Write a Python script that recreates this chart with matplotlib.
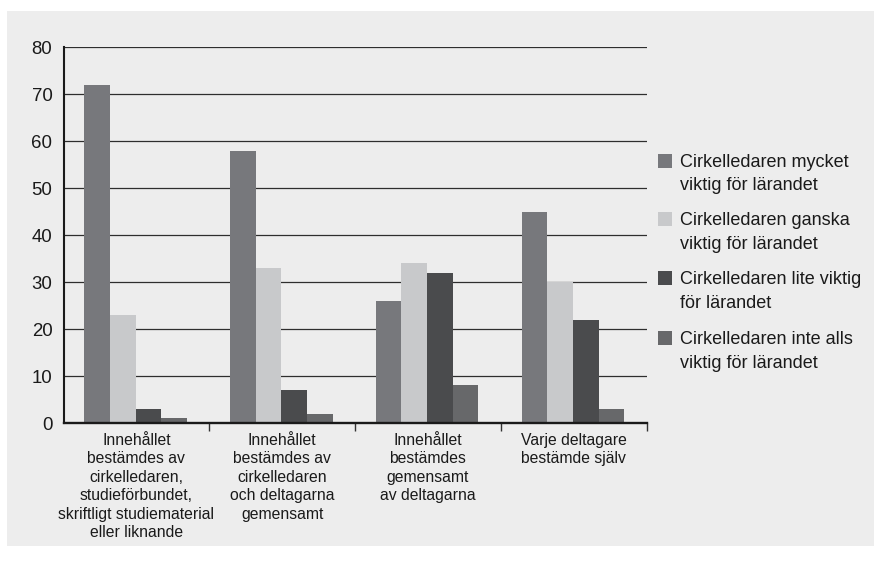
import numpy as np
import matplotlib
matplotlib.use("Agg")
import matplotlib.pyplot as plt
from matplotlib.patches import Rectangle

plt.rcParams['font.family'] = ['Liberation Sans', 'DejaVu Sans']

categories = [
    "Innehållet\nbestämdes av\ncirkelledaren,\nstudieförbundet,\nskriftligt studiematerial\neller liknande",
    "Innehållet\nbestämdes av\ncirkelledaren\noch deltagarna\ngemensamt",
    "Innehållet\nbestämdes\ngemensamt\nav deltagarna",
    "Varje deltagare\nbestämde själv",
]
series_names = [
    "Cirkelledaren mycket\nviktig för lärandet",
    "Cirkelledaren ganska\nviktig för lärandet",
    "Cirkelledaren lite viktig\nför lärandet",
    "Cirkelledaren inte alls\nviktig för lärandet",
]
mycket = [72, 58, 26, 45]
ganska = [23, 33, 34, 30]
lite = [3, 7, 32, 22]
inte_alls = [1, 2, 8, 3]
values = [mycket, ganska, lite, inte_alls]
colors = ["#77787c", "#c8c9cb", "#4a4b4d", "#67686a"]
bg = "#ededed"

W, H = 874, 561
fig = plt.figure(figsize=(W / 100, H / 100), dpi=100, facecolor="white")
fig.patches.append(Rectangle((7 / W, 1 - 546 / H), 1 - 7 / W, (546 - 11) / H,
                             transform=fig.transFigure, facecolor=bg,
                             edgecolor="none", zorder=-5))

ax = fig.add_axes([63.5 / W, 1 - 423 / H, 583 / W, 375.7 / H])
ax.set_zorder(2)
ax.patch.set_alpha(0)

x = np.arange(len(categories))
w = 0.176
for i, (vals, c) in enumerate(zip(values, colors)):
    ax.bar(x + (i - 1.5) * w - 0.005, vals, width=w, color=c, zorder=3)

ax.set_xlim(-0.5, 3.5)
ax.set_ylim(0, 80)
ax.set_yticks(range(0, 81, 10))
for yv in range(10, 81, 10):
    ax.axhline(yv, color="#2e2e2e", lw=0.9, zorder=1)

ax.tick_params(axis="y", length=0, pad=8, labelsize=13.4, labelcolor="#1a1a1a")
ax.set_xticks([0.5, 1.5, 2.5, 3.5])
ax.set_xticklabels([])
ax.set_xticks(x, minor=True)
ax.set_xticklabels(categories, minor=True, fontsize=11.3, color="#1a1a1a",
                   linespacing=1.29)
ax.tick_params(axis="x", which="major", length=6, width=1, color="#333333",
               direction="out")
ax.tick_params(axis="x", which="minor", length=0, pad=7)

for s in ["top", "right"]:
    ax.spines[s].set_visible(False)
ax.spines["left"].set_linewidth(1.5)
ax.spines["left"].set_color("#1a1a1a")
ax.spines["bottom"].set_linewidth(1.7)
ax.spines["bottom"].set_color("#1a1a1a")
ax.spines["bottom"].set_zorder(4)

# legend drawn by hand so each square sits on the first line
leg_y = [160.5, 219.3, 278, 338]
for name, c, yy in zip(series_names, colors, leg_y):
    fig.patches.append(Rectangle((658 / W, 1 - (yy + 7) / H), 14 / W, 14 / H,
                                 transform=fig.transFigure, facecolor=c,
                                 edgecolor="none"))
    fig.text(680.5 / W, 1 - (yy - 7) / H, name, fontsize=13, color="#1a1a1a",
             va="top", ha="left", linespacing=1.52)

fig.savefig("out.png", dpi=100, facecolor="white")
